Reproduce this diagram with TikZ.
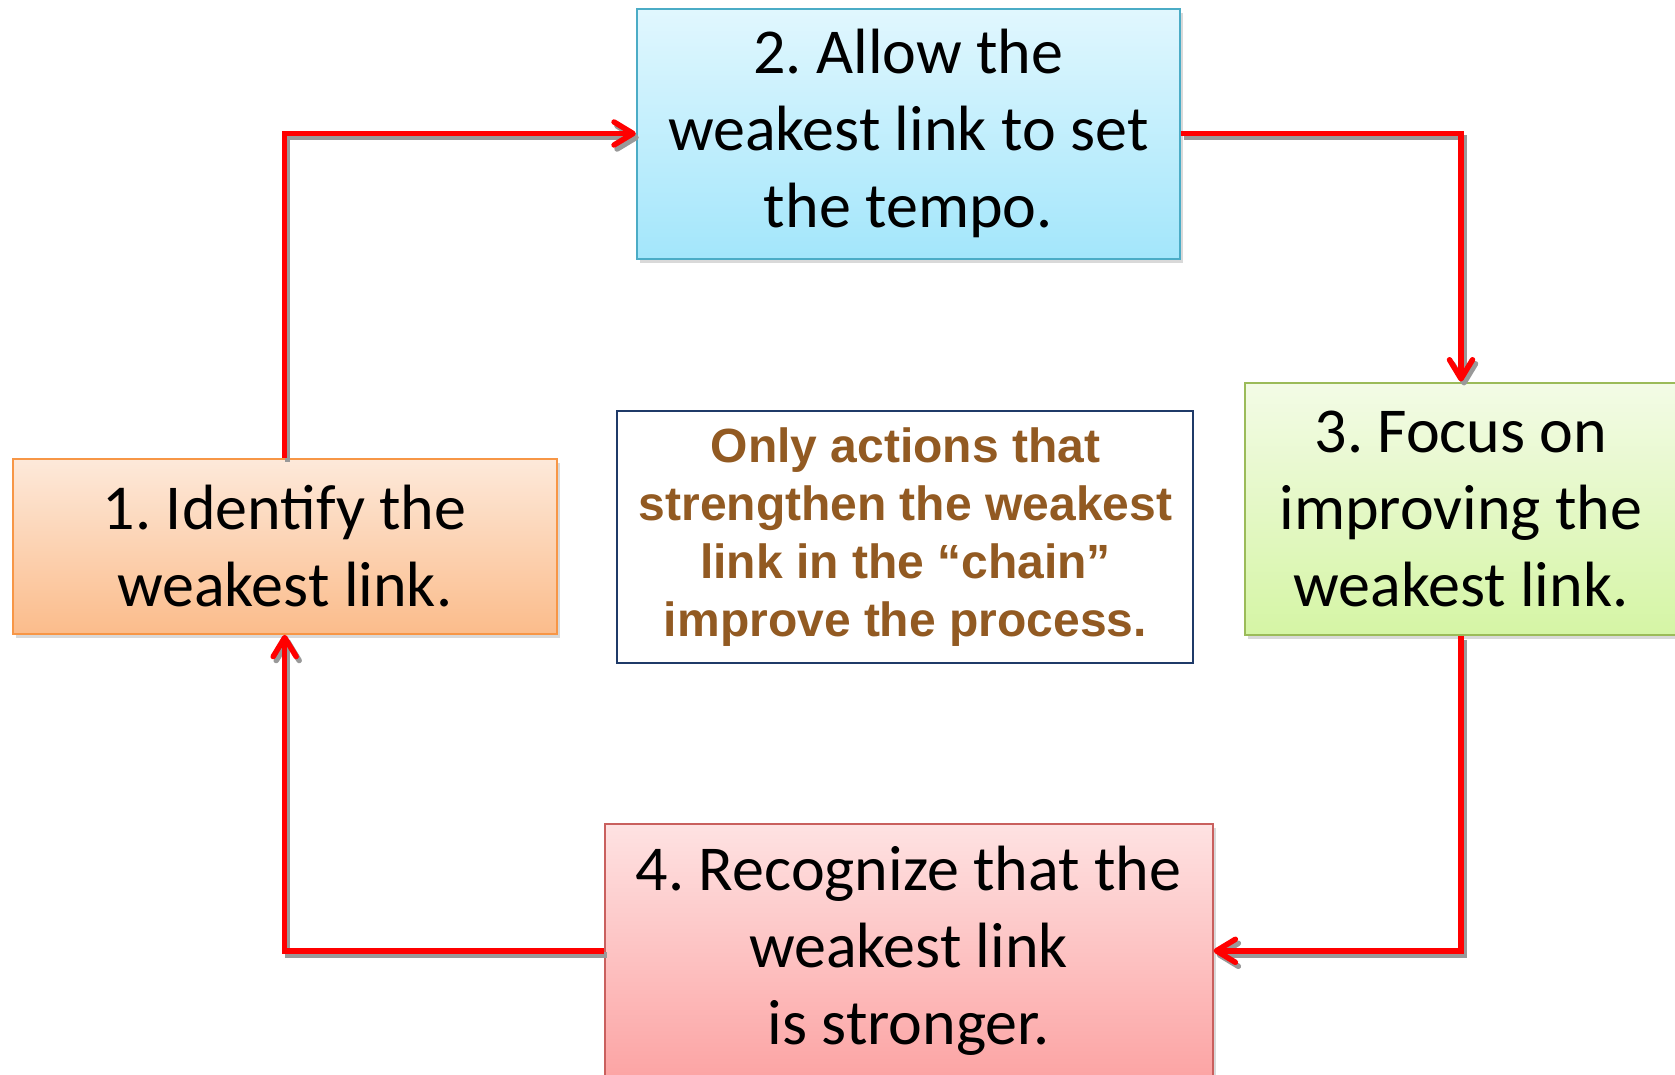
\documentclass[tikz,border=0pt]{standalone}
\usepackage{fontspec}
\setmainfont{Carlito}
\newfontfamily\notefont{Liberation Sans}
\usepackage{xcolor}
\usetikzlibrary{positioning,arrows.meta,shadows}
\frenchspacing

\definecolor{arrowred}{HTML}{FF0000}
\definecolor{notebrown}{HTML}{925A22}
\definecolor{notenavy}{HTML}{1F3A68}
\definecolor{orangeline}{HTML}{F79646}
\definecolor{orangetop}{HTML}{FDE9DA}
\definecolor{orangebot}{HTML}{FBBC8B}
\definecolor{blueline}{HTML}{4BACC6}
\definecolor{bluetop}{HTML}{E1F7FE}
\definecolor{bluebot}{HTML}{A3E6FB}
\definecolor{greenline}{HTML}{9BBB59}
\definecolor{greentop}{HTML}{F3FBE6}
\definecolor{greenbot}{HTML}{D5F5A5}
\definecolor{redline}{HTML}{C9605E}
\definecolor{redtop}{HTML}{FEE2E2}
\definecolor{redbot}{HTML}{FCA4A4}

\begin{document}
\begin{tikzpicture}[
  x=1pt, y=-1pt,
  box/.style={
    rectangle,
    draw,
    line width=2pt,
    inner sep=0pt,
    align=center,
    font=\fontsize{64}{77}\selectfont,
    drop shadow={shadow xshift=3pt, shadow yshift=-4pt, opacity=0.3}
  },
  arrow/.style={
    draw=arrowred,
    line width=5.5pt,
    -{Straight Barb[length=19pt,width=23pt,line width=5.5pt,round]}
  },
  shade/.style={
    draw=black!40,
    transform canvas={shift={(3pt,-4pt)}}
  }
]
  \useasboundingbox (0,0) rectangle (1675,1074);

  \node[box, draw=orangeline, top color=orangetop, bottom color=orangebot,
        minimum width=544pt, minimum height=175pt] (S1) at (284.7,546.3)
        {1. Identify the\\weakest link.};
  \node[box, draw=blueline, top color=bluetop, bottom color=bluebot,
        minimum width=543pt, minimum height=250pt] (S2) at (908.3,133.5)
        {2. Allow the\\weakest link to set\\the tempo.};
  \node[box, draw=greenline, top color=greentop, bottom color=greenbot,
        minimum width=433pt, minimum height=252pt] (S3) at (1461,508.5)
        {3. Focus on\\improving the\\weakest link.};
  \node[box, draw=redline, top color=redtop, bottom color=redbot,
        minimum width=608pt, minimum height=253pt] (S4) at (908.6,950.8)
        {4. Recognize that the\\weakest link\\is stronger.};

  \node[rectangle, draw=notenavy, line width=2pt, fill=white, inner sep=0pt,
        minimum width=576pt, minimum height=252pt, align=center, text=notebrown,
        font=\notefont\bfseries\fontsize{48}{58}\selectfont] (N) at (905.4,537.4)
        {Only actions that\\strengthen the weakest\\link in the “chain”\\improve the process.};

  % shadows of the connectors
  \draw[arrow, shade] (S1) |- (S2);
  \draw[arrow, shade] (S2) -| (S3);
  \draw[arrow, shade] (S3) |- (S4);
  \draw[arrow, shade] (S4) -| (S1);

  \draw[arrow] (S1) |- (S2);
  \draw[arrow] (S2) -| (S3);
  \draw[arrow] (S3) |- (S4);
  \draw[arrow] (S4) -| (S1);

\end{tikzpicture}
\end{document}
